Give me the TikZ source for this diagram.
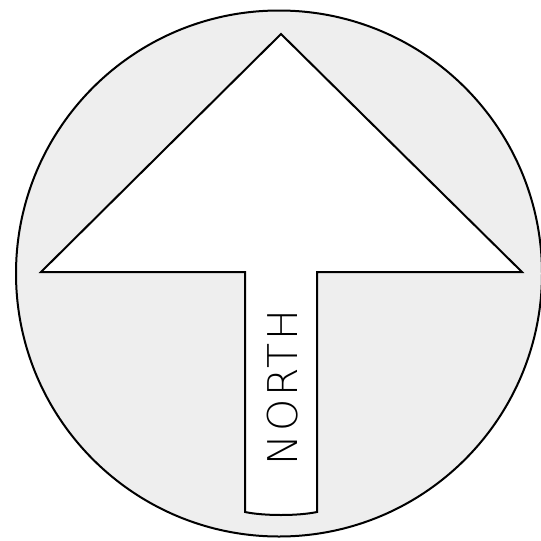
\documentclass[tikz,border=0pt]{standalone}
\usepackage{fontspec}
\newfontfamily\northfont[LetterSpace=7]{DejaVu Sans ExtraLight}
\definecolor{discgray}{RGB}{238,238,238}
\tikzset{
  outline/.style={draw=black, line width=2pt, line join=miter},
  northlabel/.style={font=\northfont\fontsize{41}{41}\selectfont, inner sep=0pt, rotate=90, anchor=base}
}
\begin{document}
\begin{tikzpicture}[x=1pt,y=-1pt]
\useasboundingbox (0,0) rectangle (541,541);
\draw[outline, fill=discgray] (279,273.5) circle[radius=263];
\draw[outline, fill=white] (281,34) -- (522,272) -- (317,272) -- (317,512)
  .. controls (298,516) and (264,516) .. (245,512) -- (245,272) -- (41,272) -- cycle;
\node[northlabel] (north) at (297,387.5) {NORTH};
\end{tikzpicture}
\end{document}
